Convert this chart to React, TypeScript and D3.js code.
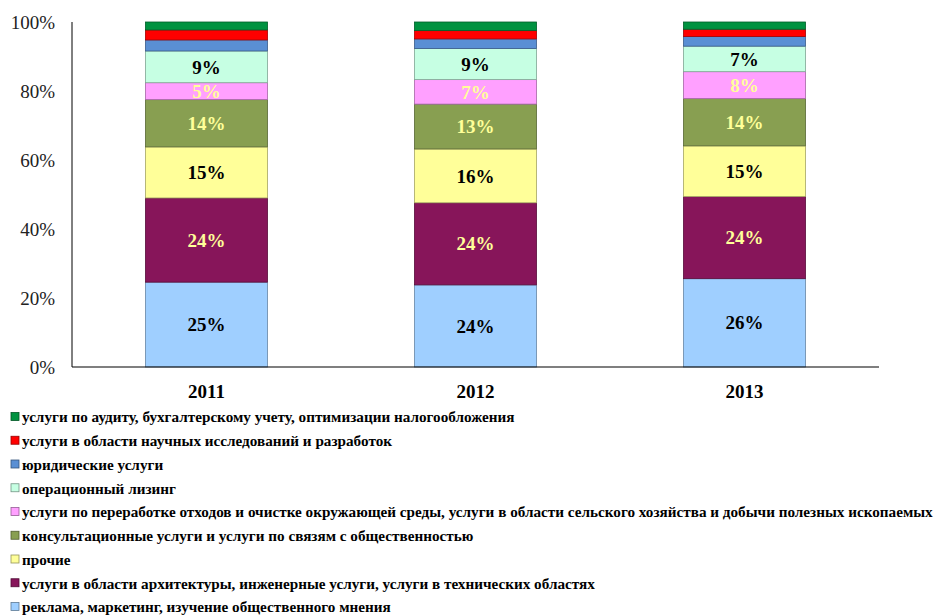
import React from 'react';
import * as d3 from 'd3';

// Structure of services, shares by year (stacked to 100%)
const years = ['2011', '2012', '2013'];

// stacking order, bottom to top
const categories = [
  'реклама, маркетинг, изучение общественного мнения',
  'услуги в области архитектуры, инженерные услуги, услуги в технических областях',
  'прочие',
  'консультационные услуги и услуги по связям с общественностью',
  'услуги по переработке отходов и очистке окружающей среды, услуги в области сельского хозяйства и добычи полезных ископаемых',
  'операционный лизинг',
  'юридические услуги',
  'услуги в области научных исследований и разработок',
  'услуги по аудиту, бухгалтерскому учету, оптимизации налогообложения',
];

const reklama = [24.6, 23.8, 25.6];
const arkhitektura = [24.4, 23.8, 23.8];
const prochie = [14.8, 15.6, 14.7];
const konsult = [13.7, 13.0, 13.7];
const otkhody = [4.9, 7.1, 7.8];
const lizing = [9.2, 9.0, 7.4];
const yurid = [3.2, 2.8, 2.8];
const nauka = [2.9, 2.4, 2.1];
const audit = [2.3, 2.5, 2.1];

const seriesValues = [reklama, arkhitektura, prochie, konsult, otkhody, lizing, yurid, nauka, audit];

const colors = ['#9fcfff', '#87155a', '#ffff99', '#889f51', '#ffa0ff', '#c6ffe3', '#5a8fd4', '#ff0000', '#009240'];
const labelColors = ['#000', '#ffff99', '#000', '#ffff99', '#ffff99', '#000', null, null, null];

const yTicks = [0, 20, 40, 60, 80, 100];

const W = 937;
const H = 615;
const margin = { top: 22, left: 72, bottom: 248, right: 58 };
const serif = '"Liberation Serif", "Times New Roman", serif';

export default function App() {
  const rows = years.map((y, i) => {
    const r: any = { year: y };
    categories.forEach((c, k) => (r[c] = seriesValues[k][i]));
    return r;
  });
  const stacked = d3.stack().keys(categories)(rows);

  const x = d3.scaleBand()
    .domain(years)
    .range([margin.left, W - margin.right])
    .paddingInner(0.546)
    .paddingOuter(0.273);
  const y = d3.scaleLinear().domain([0, 100]).range([H - margin.bottom, margin.top]);

  const legendOrder = categories.map((c, k) => k).reverse();

  return (
    <div style={{ position: 'absolute', left: 0, top: 0 }}>
      <svg width={W} height={H} style={{ display: 'block', background: '#fff' }}>
        {/* bars */}
        {stacked.map((s, k) => (
          <g key={k}>
            {s.map((d, i) => {
              const y0 = y(d[0]);
              const y1 = y(d[1]);
              const xx = x(years[i])!;
              const stroke = d3.color(colors[k])!.darker(1.2).formatHex();
              return (
                <g key={i}>
                  <rect x={xx} y={y1} width={x.bandwidth()} height={y0 - y1}
                    fill={colors[k]} stroke={stroke} strokeWidth={0.8} />
                  {labelColors[k] && (
                    <text x={xx + x.bandwidth() / 2} y={(y0 + y1) / 2} dy="0.35em"
                      textAnchor="middle" fontFamily={serif} fontWeight="bold" fontSize={19}
                      fill={labelColors[k]!}>
                      {Math.round(d[1] - d[0])}%
                    </text>
                  )}
                </g>
              );
            })}
          </g>
        ))}

        {/* axes */}
        <line x1={margin.left} x2={margin.left} y1={y(100)} y2={y(0)} stroke="#000" strokeWidth={1} />
        <line x1={margin.left} x2={W - margin.right} y1={y(0)} y2={y(0)} stroke="#000" strokeWidth={1.2} />
        {yTicks.map(t => (
          <text key={t} x={55} y={y(t)} dy="0.35em" textAnchor="end"
            fontFamily={serif} fontSize={19} fill="#222">
            {t}%
          </text>
        ))}
        {years.map(yr => (
          <text key={yr} x={x(yr)! + x.bandwidth() / 2} y={391} dy="0.35em" textAnchor="middle"
            fontFamily={serif} fontWeight="bold" fontSize={19} fill="#000">
            {yr}
          </text>
        ))}

        {/* legend */}
        {legendOrder.map((k, j) => {
          const cy = 417 + j * 23.75;
          return (
            <g key={k}>
              <rect x={11} y={cy - 4.5} width={8} height={8} fill={colors[k]}
                stroke={d3.color(colors[k])!.darker(1.5).formatHex()} strokeWidth={0.8} />
              <text x={22} y={cy} dy="0.35em" fontFamily={serif} fontWeight="bold" fontSize={15.2} fill="#000">
                {categories[k]}
              </text>
            </g>
          );
        })}
      </svg>
    </div>
  );
}
